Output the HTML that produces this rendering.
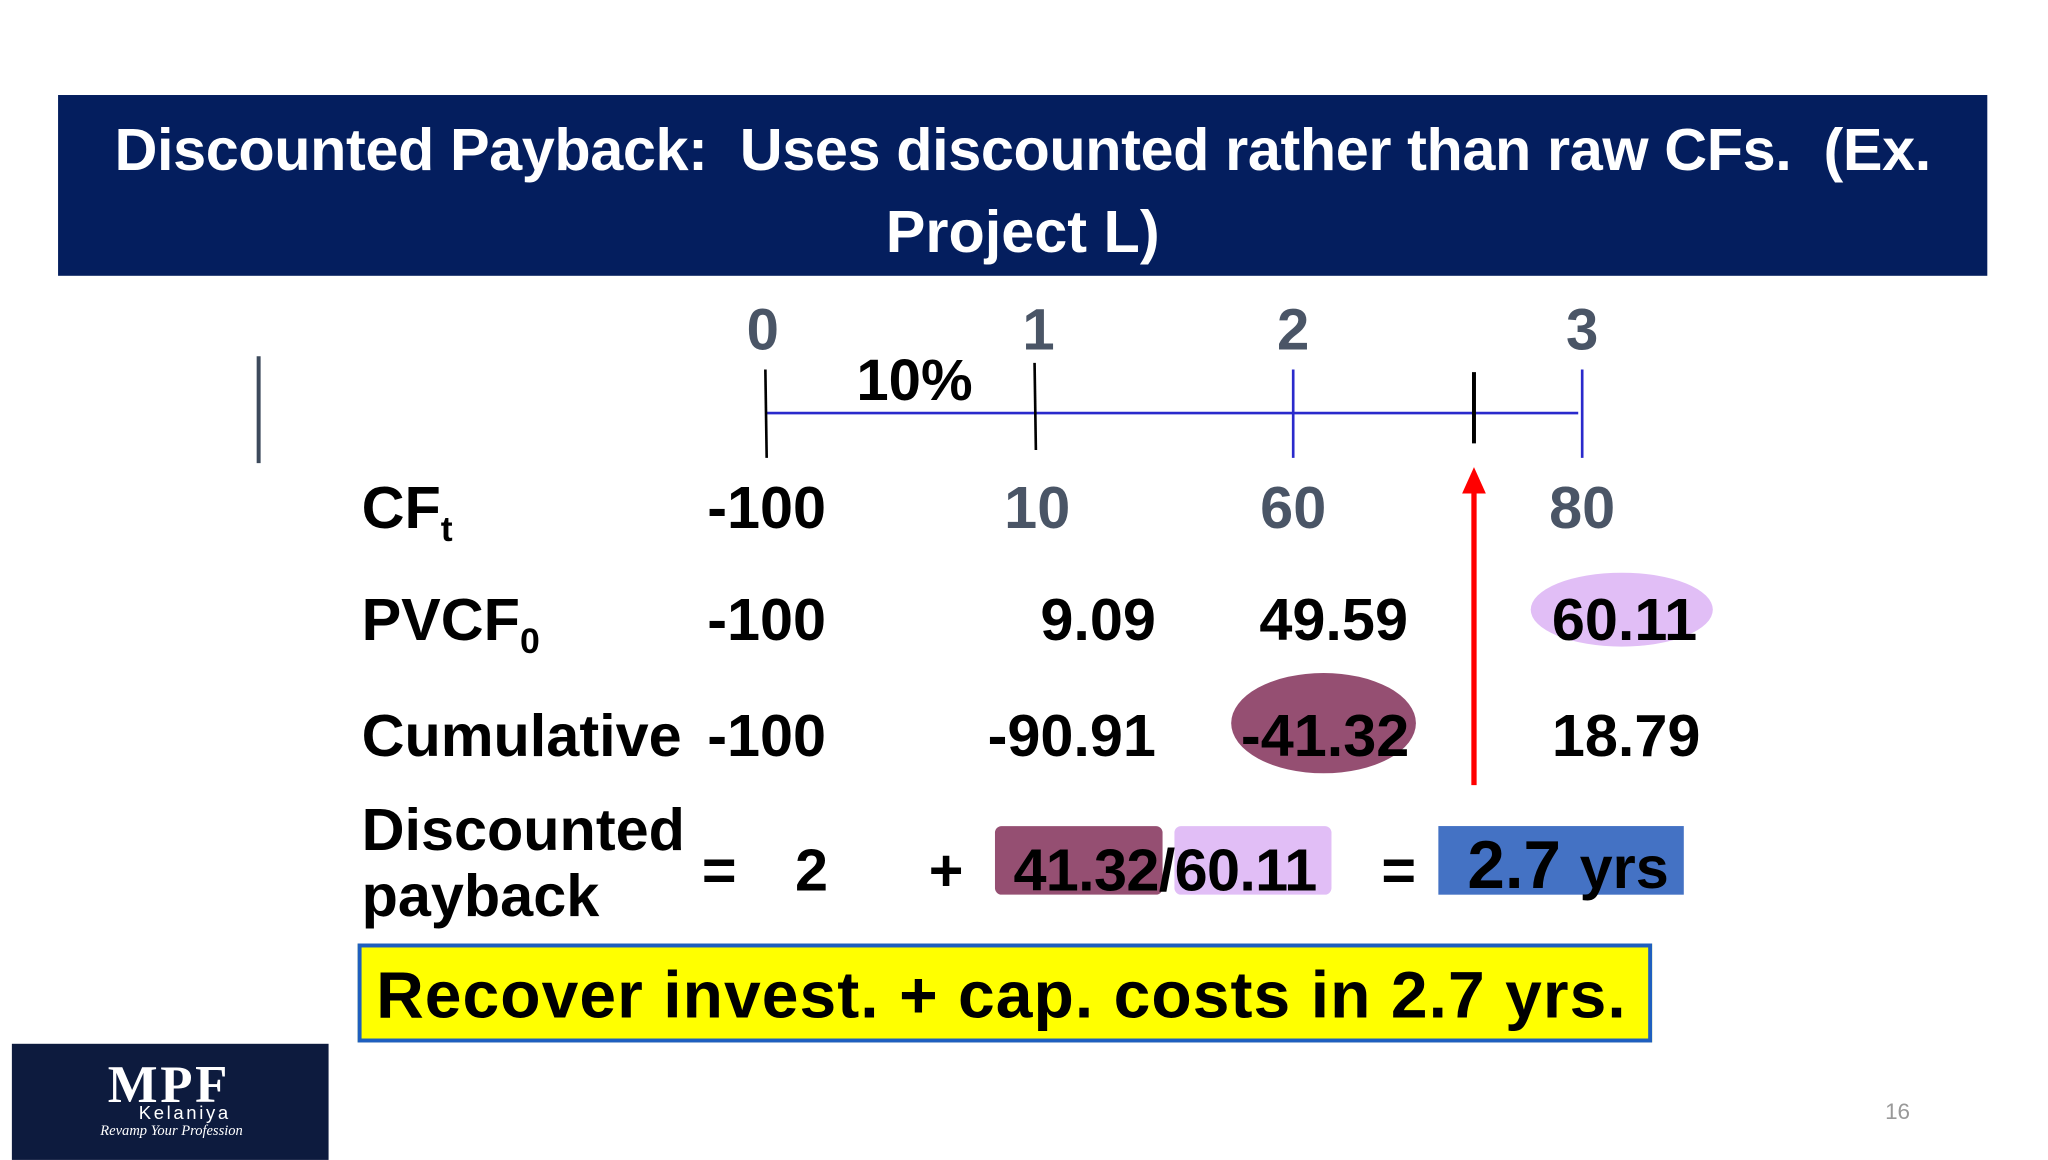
<!DOCTYPE html>
<html><head><meta charset="utf-8"><style>
html,body{margin:0;padding:0;background:#fff;overflow:hidden}
#wrap{position:absolute;left:0;top:0;width:1552px;height:873px;transform:scale(1.31959);transform-origin:0 0;font-family:"Liberation Sans",sans-serif;font-weight:bold}
.t{position:absolute;white-space:nowrap;line-height:1}
.r{transform:translateX(-100%)}
.c{transform:translateX(-50%)}
.row{font-size:45px}
</style></head><body>
<div id="wrap">
<div style="position:absolute;left:44px;top:72px;width:1462px;height:137px;background:#041e5e"></div>
<div class="t c" style="left:775px;top:91px;color:#fff;font-size:45px;letter-spacing:-0.3px">Discounted Payback:&nbsp; Uses discounted rather than raw CFs.&nbsp; (Ex.</div>
<div class="t c" style="left:775px;top:153px;color:#fff;font-size:45px">Project L)</div>

<svg style="position:absolute;left:0;top:0" width="1552" height="873">
<line x1="196" y1="270" x2="196" y2="351" stroke="#3d4a5c" stroke-width="3"/>
<line x1="580" y1="313" x2="1196" y2="313" stroke="#2a2acc" stroke-width="2"/>
<line x1="580" y1="280" x2="581" y2="347" stroke="#000" stroke-width="2"/>
<line x1="784" y1="275" x2="785" y2="341" stroke="#000" stroke-width="2"/>
<line x1="980" y1="280" x2="980" y2="347" stroke="#2a2acc" stroke-width="2"/>
<line x1="1117" y1="282" x2="1117" y2="336" stroke="#000" stroke-width="3"/>
<line x1="1199" y1="280" x2="1199" y2="347" stroke="#2a2acc" stroke-width="2"/>
<line x1="1117" y1="595" x2="1117" y2="370" stroke="#f00" stroke-width="4"/>
<polygon points="1117,354 1108,374 1126,374" fill="#f00"/>
<ellipse cx="1229" cy="462" rx="69" ry="28" fill="#e1bef6"/>
<ellipse cx="1003" cy="548" rx="70" ry="38" fill="#954f72"/>
<rect x="754" y="626" width="127" height="52" rx="5" fill="#954f72"/>
<rect x="890" y="626" width="119" height="52" rx="5" fill="#e1bef6"/>
<rect x="1090" y="626" width="186" height="52" fill="#4472c4"/>
</svg>

<div class="t c" style="left:578px;top:229px;font-size:44px;color:#4a5566">0</div>
<div class="t c" style="left:787px;top:229px;font-size:44px;color:#4a5566">1</div>
<div class="t c" style="left:980px;top:229px;font-size:44px;color:#4a5566">2</div>
<div class="t c" style="left:1199px;top:229px;font-size:44px;color:#4a5566">3</div>
<div class="t c" style="left:693px;top:267px;font-size:44px">10%</div>

<div class="t row" style="left:274px;top:362px">CF<sub style="font-size:27px">t</sub></div>
<div class="t r row" style="left:626px;top:362px">-100</div>
<div class="t c row" style="left:786px;top:362px;color:#4a5566">10</div>
<div class="t c row" style="left:980px;top:362px;color:#4a5566">60</div>
<div class="t c row" style="left:1199px;top:362px;color:#4a5566">80</div>

<div class="t row" style="left:274px;top:447px">PVCF<sub style="font-size:27px">0</sub></div>
<div class="t r row" style="left:626px;top:447px">-100</div>
<div class="t r row" style="left:876px;top:447px">9.09</div>
<div class="t r row" style="left:1067px;top:447px">49.59</div>
<div class="t row" style="left:1176px;top:447px">60.11</div>

<div class="t row" style="left:274px;top:535px">Cumulative</div>
<div class="t r row" style="left:626px;top:535px">-100</div>
<div class="t r row" style="left:876px;top:535px">-90.91</div>
<div class="t r row" style="left:1068px;top:535px">-41.32</div>
<div class="t row" style="left:1176px;top:535px">18.79</div>

<div class="t row" style="left:274px;top:606px">Discounted</div>
<div class="t row" style="left:274px;top:656px">payback</div>
<div class="t c row" style="left:545px;top:637px">=</div>
<div class="t c row" style="left:615px;top:637px">2</div>
<div class="t c row" style="left:717px;top:637px">+</div>
<div class="t" style="left:768px;top:637px;font-size:45px;letter-spacing:-0.5px">41.32/60.11</div>
<div class="t c row" style="left:1060px;top:637px">=</div>
<div class="t" style="left:1112px;top:630px;font-size:51px">2.7 <span style="font-size:45px">yrs</span></div>

<div style="position:absolute;left:271px;top:715px;width:975px;height:69px;background:#ffff00;border:3px solid #1f5fbf"></div>
<div class="t" style="left:285px;top:729px;font-size:50px;letter-spacing:0.8px">Recover invest. + cap. costs in 2.7 yrs.</div>

<div style="position:absolute;left:9px;top:791px;width:240px;height:88px;background:#0d1b3e"></div>
<div class="t c" style="left:128px;top:802px;color:#fff;font-family:'Liberation Serif',serif;font-size:40px;letter-spacing:2px">MPF</div>
<div class="t c" style="left:140px;top:836px;color:#fff;font-weight:normal;font-size:14px;letter-spacing:2px">Kelaniya</div>
<div class="t c" style="left:130px;top:852px;color:#fff;font-family:'Liberation Serif',serif;font-style:italic;font-weight:normal;font-size:11px">Revamp Your Profession</div>
<div class="t c" style="left:1438px;top:834px;color:#999;font-weight:normal;font-size:17px">16</div>
</div>
</body></html>
